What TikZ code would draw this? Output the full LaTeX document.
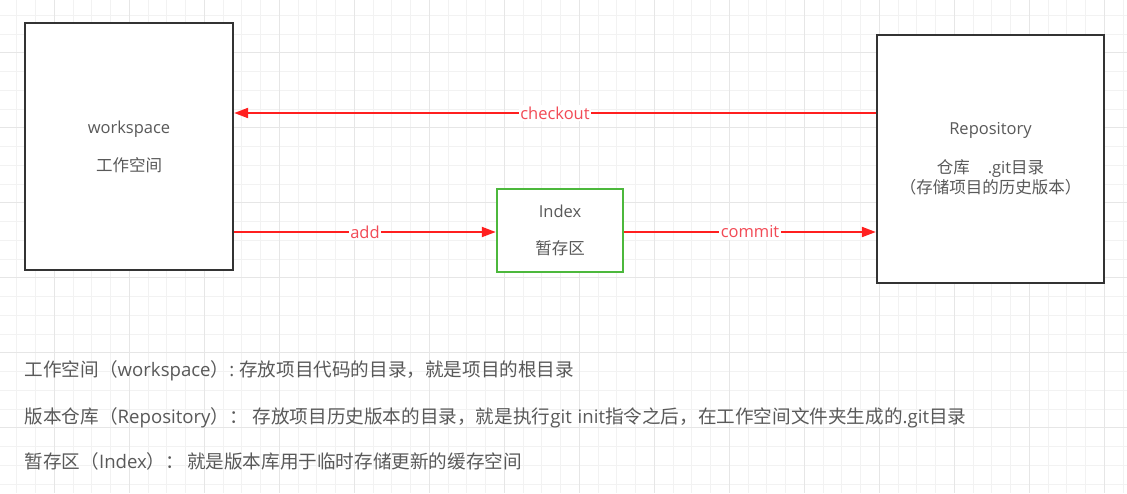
\documentclass[tikz,border=0pt]{standalone}
\usepackage{fontspec}
\setmainfont{Open Sans}
\newfontfamily\zh{Noto Sans CJK SC}
\usetikzlibrary{arrows.meta}
\definecolor{txtgray}{HTML}{595959}
\definecolor{arrred}{HTML}{FF1F1F}
\definecolor{lblred}{HTML}{F24A55}
\definecolor{boxgreen}{HTML}{4CB83C}
\definecolor{boxdark}{HTML}{333333}
\definecolor{gridminor}{HTML}{F2F2F2}
\definecolor{gridmajor}{HTML}{E6E6E6}
\begin{document}
\begin{tikzpicture}[x=1pt,y=-1pt,
  every node/.style={text=txtgray, font=\fontsize{16.5}{20}\selectfont},
  bigbox/.style={draw=boxdark, line width=2.3pt, fill=white, align=center, inner sep=0pt},
  idxbox/.style={draw=boxgreen, line width=2.5pt, fill=white, align=center, inner sep=0pt},
  arr/.style={draw=arrred, line width=2pt, -{Triangle[length=14pt,width=10pt]}},
  lbl/.style={fill=white, text=lblred, inner sep=1.5pt},
  desc/.style={anchor=west, inner sep=0pt, font=\fontsize{18.6}{22}\selectfont}]
\useasboundingbox (0,0) rectangle (1127,493);
\fill[white] (0,0) rectangle (1127,493);
% grid
\foreach \k in {0,...,59} \draw[gridminor, line width=0.8pt] (16.8+18.75*\k,0) -- (16.8+18.75*\k,493);
\foreach \k in {0,...,25} \draw[gridminor, line width=0.8pt] (0,15.2+18.75*\k) -- (1127,15.2+18.75*\k);
\foreach \k in {0,...,14} \draw[gridmajor, line width=0.9pt] (54.3+75*\k,0) -- (54.3+75*\k,493);
\foreach \k in {0,...,5} \draw[gridmajor, line width=0.9pt] (0,52.7+75*\k) -- (1127,52.7+75*\k);
% boxes
\node[bigbox, minimum width=208pt, minimum height=247pt] (ws) at (129,146.5)
  {\raisebox{-2pt}{workspace}\\[20pt]{\zh 工作空间}};
\node[idxbox, minimum width=126pt, minimum height=83pt] (idx) at (560,230.5)
  {\raisebox{-2pt}{Index}\\[19pt]{\zh 暂存区}};
\node[bigbox, minimum width=227pt, minimum height=248pt] (repo) at (990.5,159)
  {\raisebox{-2pt}{Repository}\\[21pt]{\zh 仓库}\hspace{18pt}.git{\zh 目录}\\{\zh （存储项目的历史版本）}};
% connectors
\coordinate (ychk) at (0,113);
\coordinate (yadd) at (0,232);
\draw[arr] (repo.west |- ychk) -- node[lbl] (lchk) {checkout} (ws.east |- ychk);
\draw[arr] (ws.east |- yadd) -- node[lbl] (ladd) {add} (idx.west |- yadd);
\draw[arr] (idx.east |- yadd) -- node[lbl] (lcom) {commit} (repo.west |- yadd);
% descriptions
\node[desc] (d1) at (24.5,370.5) {{\zh 工作空间（}workspace{\zh ）}:\hspace{5pt}{\zh 存放项目代码的目录，就是项目的根目录}};
\node[desc] (d2) at (24.5,418) {{\zh 版本仓库（}Repository{\zh ）：}\hspace{5pt}{\zh 存放项目历史版本的目录，就是执行}git\hspace{1pt} init{\zh 指令之后，在工作空间文件夹生成的}.git{\zh 目录}};
\node[desc] (d3) at (24.5,461.5) {{\zh 暂存区（}Index{\zh ）：}\hspace{3pt}{\zh 就是版本库用于临时存储更新的缓存空间}};
\end{tikzpicture}
\end{document}
